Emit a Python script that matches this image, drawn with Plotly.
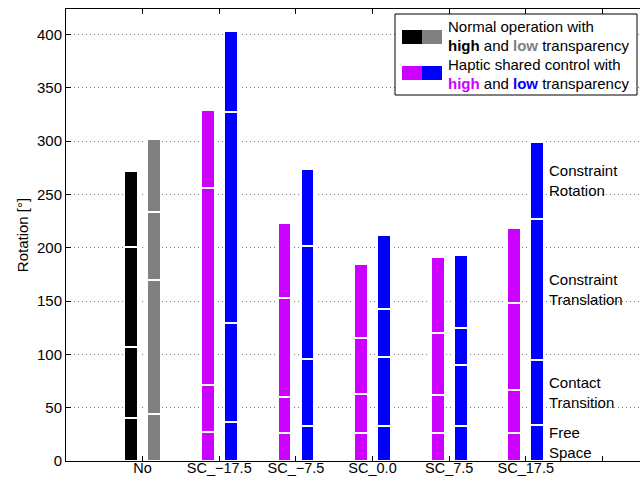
import plotly.graph_objects as go

categories = ["No", "SC_−17.5", "SC_−7.5", "SC_0.0", "SC_7.5", "SC_17.5"]
phases = ["Free Space", "Contact Transition", "Constraint Translation", "Constraint Rotation"]

# Rotation [°] per task phase, high-transparency condition
free_space_high = [40, 27, 26, 26, 26, 26]
contact_high = [67, 44, 34, 37, 36, 41]
translation_high = [94, 185, 93, 52, 58, 81]
rotation_high = [71, 73, 70, 70, 71, 71]

# Rotation [°] per task phase, low-transparency condition
free_space_low = [44, 37, 33, 33, 33, 34]
contact_low = [126, 92, 63, 65, 57, 61]
translation_low = [64, 198, 106, 45, 35, 132]
rotation_low = [68, 76, 72, 69, 68, 72]

y_ticks = [0, 50, 100, 150, 200, 250, 300, 350, 400]

BLACK, GRAY, MAGENTA, BLUE = "#000000", "#808080", "#cc00ff", "#0000ff"
FONT = "Liberation Sans, Arial, Helvetica, sans-serif"

high = [free_space_high, contact_high, translation_high, rotation_high]
low = [free_space_low, contact_low, translation_low, rotation_low]

n = len(categories)
pos = list(range(1, n + 1))
offset, bar_w = 0.15, 0.18
x_high = [p - offset for p in pos]
x_low = [p + offset for p in pos]
colors = [BLACK] + [MAGENTA] * (n - 1) + [GRAY] + [BLUE] * (n - 1)

fig = go.Figure()
for name, h, l in zip(phases, high, low):
    fig.add_trace(go.Bar(
        x=x_high + x_low, y=h + l, name=name, width=bar_w,
        marker=dict(color=colors, line=dict(color="white", width=2.5)),
        showlegend=False,
    ))

# plot-area pixel helpers (plot spans x 66..640, y 9..461)
L, R, T, B = 66, 640, 9, 461
def px(x):
    return (x - L) / (R - L)
def py(y):
    return (B - y) / (B - T)

# phase labels beside the last low-transparency bar, at segment midpoints
annotations = []
base = 0
for name, seg in zip(phases, low):
    v = seg[-1]
    annotations.append(dict(
        x=6.28, y=base + v / 2, xref="x", yref="y", xanchor="left", yanchor="middle",
        text=name.replace(" ", "<br>"), showarrow=False, align="left",
        font=dict(family=FONT, size=15, color="black"),
    ))
    base += v

# legend box
shapes = [
    dict(type="rect", xref="paper", yref="paper", x0=px(395), x1=px(637), y0=py(95), y1=py(14),
         fillcolor="white", line=dict(color="black", width=1), layer="above"),
]
for (x0, x1, y0, y1, c) in [(402, 422, 30, 44, BLACK), (422, 442, 30, 44, GRAY),
                            (402, 422, 66, 80, MAGENTA), (422, 442, 66, 80, BLUE)]:
    shapes.append(dict(type="rect", xref="paper", yref="paper", x0=px(x0), x1=px(x1),
                       y0=py(y1), y1=py(y0), fillcolor=c, line=dict(width=0), layer="above"))

legend_lines = [
    (26, "Normal operation with"),
    (46, f"<b>high</b> and <b><span style='color:{GRAY}'>low</span></b> transparency"),
    (64, "Haptic shared control with"),
    (84, f"<b><span style='color:{MAGENTA}'>high</span></b> and <b><span style='color:{BLUE}'>low</span></b> transparency"),
]
for y, t in legend_lines:
    annotations.append(dict(
        x=px(446), y=py(y), xref="paper", yref="paper", xanchor="left", yanchor="middle",
        text=t, showarrow=False, align="left",
        font=dict(family=FONT, size=15, color="black"),
    ))

fig.update_layout(
    width=640, height=480,
    margin=dict(l=L, r=640 - R, t=T, b=480 - B, autoexpand=False),
    paper_bgcolor="white", plot_bgcolor="white",
    barmode="stack", bargap=0,
    font=dict(family=FONT, size=15, color="black"),
    xaxis=dict(
        range=[0, 7.49], tickmode="array", tickvals=list(range(1, n + 2)),
        ticktext=categories + [""], ticks="inside", ticklen=5, tickcolor="black",
        showline=True, linecolor="black", linewidth=1, mirror="ticks",
        showgrid=False, zeroline=False, automargin=False,
        ticklabelstandoff=-6,
        tickfont=dict(family=FONT, size=14.5, color="black"),
    ),
    yaxis=dict(
        range=[0, 424], tickmode="array", tickvals=y_ticks,
        ticks="inside", ticklen=5, tickcolor="black",
        showline=True, linecolor="black", linewidth=1, mirror=False,
        showgrid=True, gridcolor="#777777", griddash="1px,3px", gridwidth=1,
        zeroline=False, automargin=False,
        tickfont=dict(family=FONT, size=15, color="black"),
        title=dict(text="Rotation [°]", standoff=4, font=dict(family=FONT, size=15)),
    ),
    yaxis2=dict(
        range=[0, 424], overlaying="y", side="right", tickmode="array", tickvals=y_ticks,
        ticks="inside", ticklen=5, tickcolor="black", showticklabels=False,
        showline=False, showgrid=False, zeroline=False,
    ),
    shapes=shapes,
    annotations=annotations,
)

fig.write_html("out.html")
